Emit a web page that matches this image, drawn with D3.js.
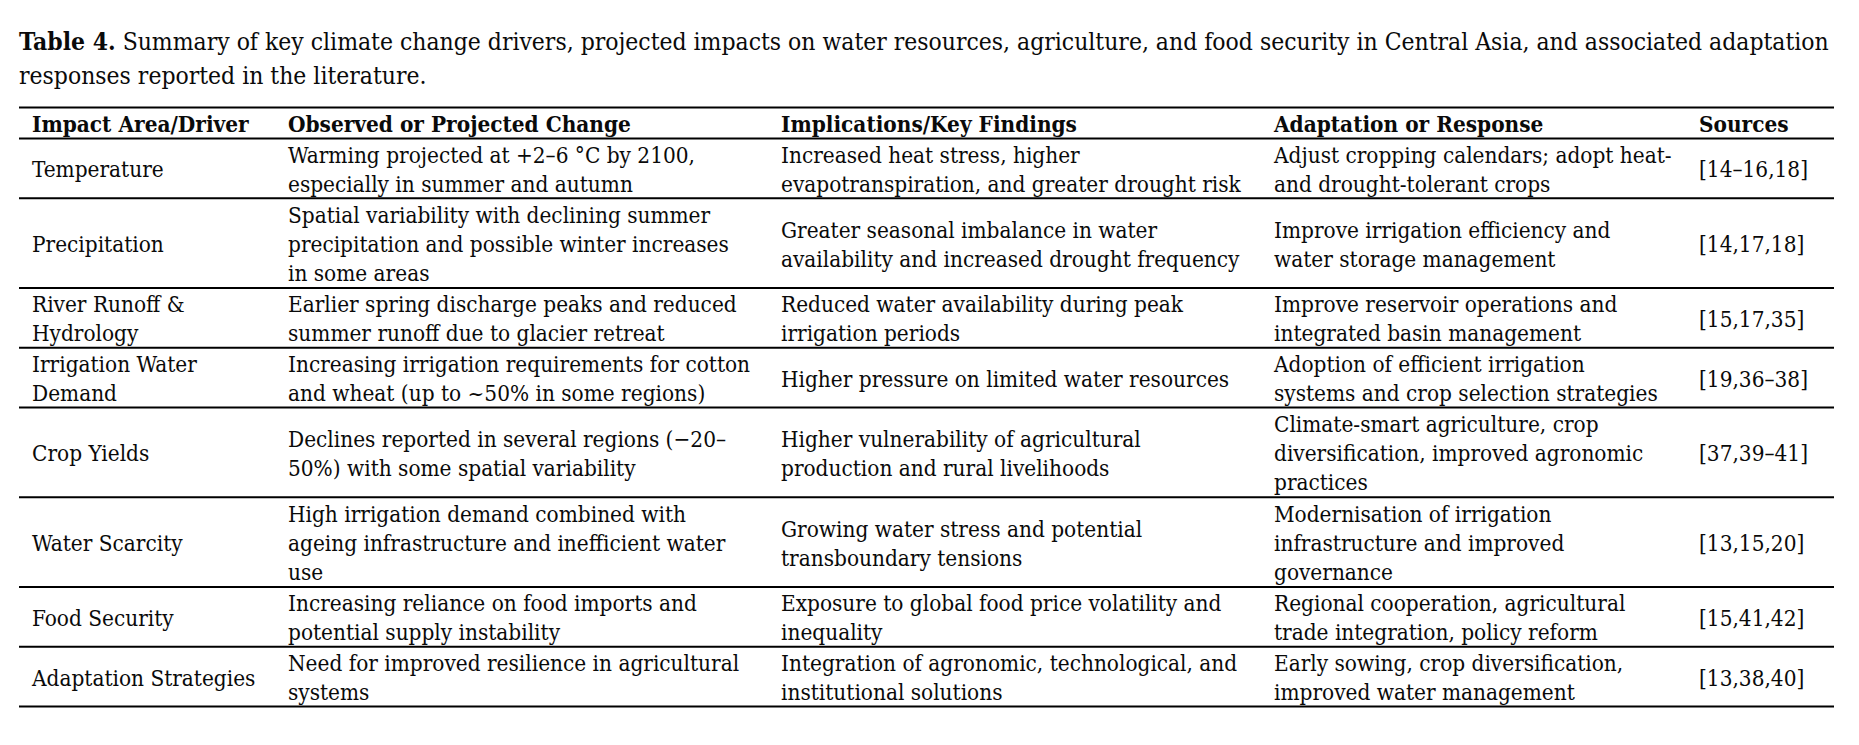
<!DOCTYPE html>
<html>
<head>
<meta charset="utf-8">
<script src="https://cdn.jsdelivr.net/npm/d3@7"></script>
<style>
  html, body { margin: 0; padding: 0; background: #fff; }
  svg { display: block; }
  text { font-family: "DejaVu Serif Condensed", "DejaVu Serif", serif; fill: #0a0a0a; }
</style>
</head>
<body>
<svg id="chart" width="1859" height="745"></svg>
<script>
// table content, line breaks as in the printed table
var titleBold = "Table 4.";
var titleLines = [
  " Summary of key climate change drivers, projected impacts on water resources, agriculture, and food security in Central Asia, and associated adaptation",
  "responses reported in the literature."
];
var headers = ["Impact Area/Driver", "Observed or Projected Change", "Implications/Key Findings", "Adaptation or Response", "Sources"];
var drivers = ["Temperature", "Precipitation", "River Runoff &\nHydrology", "Irrigation Water\nDemand", "Crop Yields",
  "Water Scarcity", "Food Security", "Adaptation Strategies"];
var changes = [
  "Warming projected at +2–6 °C by 2100,\nespecially in summer and autumn",
  "Spatial variability with declining summer\nprecipitation and possible winter increases\nin some areas",
  "Earlier spring discharge peaks and reduced\nsummer runoff due to glacier retreat",
  "Increasing irrigation requirements for cotton\nand wheat (up to ~50% in some regions)",
  "Declines reported in several regions (−20–\n50%) with some spatial variability",
  "High irrigation demand combined with\nageing infrastructure and inefficient water\nuse",
  "Increasing reliance on food imports and\npotential supply instability",
  "Need for improved resilience in agricultural\nsystems"
];
var findings = [
  "Increased heat stress, higher\nevapotranspiration, and greater drought risk",
  "Greater seasonal imbalance in water\navailability and increased drought frequency",
  "Reduced water availability during peak\nirrigation periods",
  "Higher pressure on limited water resources",
  "Higher vulnerability of agricultural\nproduction and rural livelihoods",
  "Growing water stress and potential\ntransboundary tensions",
  "Exposure to global food price volatility and\ninequality",
  "Integration of agronomic, technological, and\ninstitutional solutions"
];
var responses = [
  "Adjust cropping calendars; adopt heat-\nand drought-tolerant crops",
  "Improve irrigation efficiency and\nwater storage management",
  "Improve reservoir operations and\nintegrated basin management",
  "Adoption of efficient irrigation\nsystems and crop selection strategies",
  "Climate-smart agriculture, crop\ndiversification, improved agronomic\npractices",
  "Modernisation of irrigation\ninfrastructure and improved\ngovernance",
  "Regional cooperation, agricultural\ntrade integration, policy reform",
  "Early sowing, crop diversification,\nimproved water management"
];
var sources = ["[14–16,18]", "[14,17,18]", "[15,17,35]", "[19,36–38]", "[37,39–41]", "[13,15,20]", "[15,41,42]", "[13,38,40]"];

var svg = d3.select("#chart");

// layout
var left = 19, right = 1834;
var topRule = 107.5, headerH = 31;
var tableBottom = 706.5;
var colX = d3.scaleOrdinal().domain(d3.range(5)).range([32, 288, 781, 1274, 1699]);
var textLineH = 29;

// fit font size to measured widths in the reference
function fitSize(str, target, weight) {
  var t = svg.append("text").attr("font-size", 100).attr("font-weight", weight || "normal").text(str);
  var w = t.node().getComputedTextLength();
  t.remove();
  return 100 * target / w;
}
var fs = fitSize("evapotranspiration, and greater drought risk", 460);
var titleFs = fitSize(titleBold + titleLines[0], 1802);

// title
var t1 = svg.append("text").attr("x", 19).attr("y", 49.5).attr("font-size", titleFs);
t1.append("tspan").attr("font-weight", "bold").text(titleBold);
t1.append("tspan").text(titleLines[0]);
svg.append("text").attr("x", 19).attr("y", 83.5).attr("font-size", titleFs).text(titleLines[1]);

// rows
var rows = drivers.map(function (d, i) {
  var cells = [d, changes[i], findings[i], responses[i], sources[i]].map(function (c) { return c.split("\n"); });
  return { cells: cells, n: d3.max(cells, function (c) { return c.length; }) };
});
var cum = [0];
rows.forEach(function (r) { cum.push(cum[cum.length - 1] + r.n); });
var y = d3.scaleLinear().domain([0, cum[cum.length - 1]]).range([topRule + headerH, tableBottom]);

// header
svg.append("g").selectAll("text").data(headers).join("text")
  .attr("x", function (d, i) { return colX(i); })
  .attr("y", topRule + headerH / 2 + 0.4 * fs)
  .attr("font-size", fs)
  .attr("font-weight", "bold")
  .text(function (d) { return d; });

// body cells
rows.forEach(function (r, ri) {
  var cy = (y(cum[ri]) + y(cum[ri + 1])) / 2;
  r.cells.forEach(function (lines, ci) {
    svg.append("g").selectAll("text").data(lines).join("text")
      .attr("x", colX(ci))
      .attr("y", function (l, li) { return cy + (li - (lines.length - 1) / 2) * textLineH + 0.4 * fs; })
      .attr("font-size", fs)
      .text(function (l) { return l; });
  });
});

// rules
var ruleYs = [topRule, topRule + headerH].concat(cum.slice(1).map(function (c) { return y(c); }));
svg.append("g").selectAll("line").data(ruleYs).join("line")
  .attr("x1", left).attr("x2", right)
  .attr("y1", function (d) { return d; }).attr("y2", function (d) { return d; })
  .attr("stroke", "#000").attr("stroke-width", 2);
</script>
</body>
</html>
